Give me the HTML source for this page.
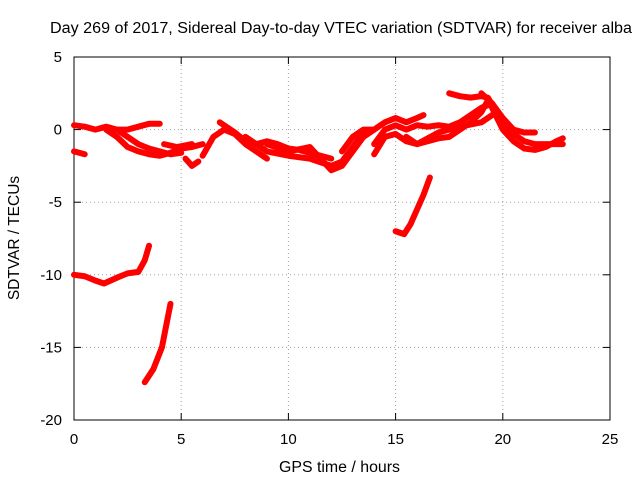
<!DOCTYPE html>
<html><head><meta charset="utf-8"><style>
body{margin:0;background:#fff}
svg{display:block;font-family:"Liberation Sans",sans-serif}
</style></head><body>
<svg id="chart" width="640" height="480"></svg>
<script>
const xTicks=[0,5,10,15,20,25];
const yTicks=[5,0,-5,-10,-15,-20];
const s1=[[0,0.3],[0.5,0.2],[1,0],[1.5,0.2],[2,0],[2.5,0],[3,0.2],[3.5,0.4],[4,0.4]];
const s2=[[0,-1.5],[0.5,-1.7]];
const s3=[[0,-10],[0.5,-10.1],[1,-10.4],[1.4,-10.6],[2,-10.2],[2.5,-9.9],[3,-9.8],[3.3,-9],[3.5,-8]];
const s4=[[3.3,-17.4],[3.7,-16.5],[4.1,-15],[4.5,-12]];
const s5=[[1.5,0],[2,-0.5],[2.5,-1.2],[3,-1.5],[3.5,-1.7],[4,-1.8],[4.5,-1.6],[5,-1.3],[5.5,-1.2],[6,-1]];
const s6=[[2,0],[2.5,-0.5],[3,-1],[3.5,-1.3],[4,-1.5],[4.5,-1.7],[5,-1.6]];
const s7=[[4.2,-1],[4.8,-1.2],[5.5,-1]];
const s8=[[5.2,-2],[5.5,-2.5],[5.8,-2.2]];
const s9=[[6,-1.8],[6.5,-0.5],[7,0],[7.5,-0.3],[8,-1],[8.5,-1.5],[9,-2]];
const s10=[[6.8,0.5],[7.5,-0.2],[8,-0.8],[8.5,-1],[9,-0.8],[9.5,-1],[10,-1.3],[10.5,-1.4],[11,-1.6],[11.5,-1.8],[12,-2]];
const s11=[[8,-0.5],[9,-1.5],[10,-1.8],[11,-2],[12,-2.5],[12.5,-2.2],[13,-1.2],[13.5,-0.2]];
const s12=[[9,-1],[10,-1.5],[11,-1.2],[11.5,-2],[12,-2.8],[12.5,-2.5],[13,-1.5],[13.5,-0.5],[14,0]];
const s13=[[12.5,-1.5],[13,-0.5],[13.5,0],[14,0],[14.5,0.5],[15,0.8],[15.5,0.5],[16,0.8],[16.3,1]];
const s14=[[14,-1],[14.5,0],[15,0.3],[15.5,0],[16,0.3],[16.5,0.2],[17,0.3],[17.5,0.2],[18,0.5],[18.5,1],[19,1.5],[19.5,1.8]];
const s15=[[14,-1.7],[14.5,-0.5],[15,-0.3],[15.5,-0.8],[16,-1],[16.5,-0.8],[17,-0.6],[17.5,-0.5],[18,0],[18.5,0.5],[19,1.2],[19.3,2]];
const s16=[[15.5,-0.5],[16,-1],[17,-0.2],[18,0.2],[19,0.5],[19.5,1]];
const s17=[[15,-7],[15.4,-7.2],[15.7,-6.5],[16,-5.5],[16.3,-4.5],[16.6,-3.3]];
const s18=[[17.5,2.5],[18,2.3],[18.5,2.2],[19,2.3],[19.3,2.2],[19.6,1.5],[20,0.5],[20.5,-0.3],[21,-0.8],[21.5,-1],[22,-1],[22.5,-1],[22.8,-1]];
const s19=[[19,2.5],[19.5,1.8],[20,0.8],[20.5,0],[21,-0.2],[21.5,-0.2]];
const s20=[[19.5,1.5],[20,0],[20.5,-0.8],[21,-1.3],[21.5,-1.4],[22,-1.2],[22.5,-0.8],[22.8,-0.6]];
const seriesList=[s1,s2,s3,s4,s5,s6,s7,s8,s9,s10,s11,s12,s13,s14,s15,s16,s17,s18,s19,s20];

const L=74,R=610,T=57,B=420,xmin=0,xmax=25,ymin=-20,ymax=5;
const X=v=>L+(v-xmin)/(xmax-xmin)*(R-L);
const Y=v=>B-(v-ymin)/(ymax-ymin)*(B-T);
const svg=document.getElementById('chart');
const NS='http://www.w3.org/2000/svg';
function mk(tag,attrs,parent){const e=document.createElementNS(NS,tag);for(const k in attrs)e.setAttribute(k,attrs[k]);(parent||svg).appendChild(e);return e;}

xTicks.forEach(t=>{
  const x=X(t);
  if(t>xmin&&t<xmax){const g=mk('line',{x1:x,x2:x,y1:T,y2:B,stroke:'#a0a0a0','stroke-dasharray':'1,3'});
  
  }
  mk('line',{x1:x,x2:x,y1:B,y2:B-7,stroke:'#000'});
  mk('line',{x1:x,x2:x,y1:T,y2:T+7,stroke:'#000'});
  const tx=mk('text',{x:x,y:B+24,'text-anchor':'middle','font-size':'15'});tx.textContent=t;
  
  
});
yTicks.forEach(t=>{
  const y=Y(t);
  if(t>ymin&&t<ymax){const g=mk('line',{x1:L,x2:R,y1:y,y2:y,stroke:'#a0a0a0','stroke-dasharray':'1,3'});
  
  }
  mk('line',{x1:L,x2:L+7,y1:y,y2:y,stroke:'#000'});
  mk('line',{x1:R,x2:R-7,y1:y,y2:y,stroke:'#000'});
  const tx=mk('text',{x:L-12,y:y+5,'text-anchor':'end','font-size':'15'});tx.textContent=t;
  
  
});
const frame=mk('rect',{x:L,y:T,width:R-L,height:B-T,fill:'none',stroke:'#000'});



seriesList.forEach((s,i)=>{
  const p=mk('polyline',{points:s.map(d=>X(d[0])+','+Y(d[1])).join(' '),fill:'none',stroke:'#ff0000','stroke-width':'6','stroke-linejoin':'round','stroke-linecap':'round'});
  
  
});

const title=mk('text',{x:50,y:33,'font-size':'15.5',textLength:'582',lengthAdjust:'spacingAndGlyphs'});
title.textContent='Day 269 of 2017, Sidereal Day-to-day VTEC variation (SDTVAR) for receiver alba';


const xl=mk('text',{x:279,y:472,'font-size':'15.5',textLength:'121',lengthAdjust:'spacingAndGlyphs'});
xl.textContent='GPS time / hours';


const yl=mk('text',{x:0,y:0,'text-anchor':'middle','font-size':'15.5',transform:'translate(19,238) rotate(-90)'});
yl.textContent='SDTVAR / TECUs';


</script>
</body></html>
